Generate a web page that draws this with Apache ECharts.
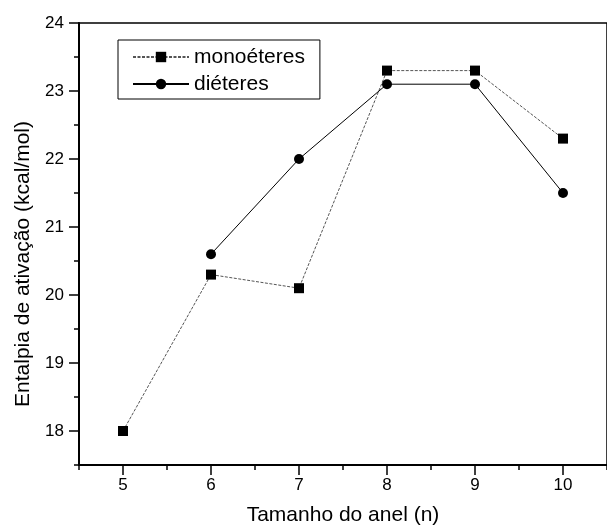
<!DOCTYPE html>
<html>
<head>
<meta charset="utf-8">
<script src="https://cdn.jsdelivr.net/npm/echarts@6/dist/echarts.min.js"></script>
<style>html,body{margin:0;padding:0;background:#fff;overflow:hidden}#c{width:607px;height:532px}</style>
</head>
<body>
<div id="c"></div>
<script>
const ringSizes = [5, 6, 7, 8, 9, 10];
const monoeteres = [18.0, 20.3, 20.1, 23.3, 23.3, 22.3];
const dieteresX = [6, 7, 8, 9, 10];
const dieteres = [20.6, 22.0, 23.1, 23.1, 21.5];
const xMajorTicks = [5, 6, 7, 8, 9, 10];
const xMinorTicks = [4.5, 5.5, 6.5, 7.5, 8.5, 9.5, 10.5];
const yMajorTicks = [18, 19, 20, 21, 22, 23, 24];
const yMinorTicks = [17.5, 18.5, 19.5, 20.5, 21.5, 22.5, 23.5];

const FONT = 'Liberation Sans, Arial, sans-serif';
const chart = echarts.init(document.getElementById('c'), null, {renderer: 'canvas'});
const base = {min: 4.5, max: 10.5, type: 'value'};
const ybase = {min: 17.5, max: 24, type: 'value'};
chart.setOption({
  animation: false,
  backgroundColor: '#fff',
  grid: {left: 79, top: 23, width: 535, height: 442, show: true, borderColor: '#000', borderWidth: 1.5, backgroundColor: 'transparent'},
  legend: {
    left: 118, top: 40, orient: 'vertical',
    borderColor: '#000', borderWidth: 1, borderRadius: 0,
    padding: [5, 15, 3, 14], itemGap: 3,
    itemWidth: 56, itemHeight: 13,
    textStyle: {fontFamily: FONT, fontSize: 21, color: '#000', lineHeight: 24},
    data: ['monoéteres', 'diéteres']
  },
  xAxis: [
    Object.assign({}, base, {
      position: 'bottom',
      name: 'Tamanho do anel (n)', nameLocation: 'middle', nameGap: 40,
      nameTextStyle: {fontFamily: FONT, fontSize: 21, color: '#000'},
      axisLine: {show: true, onZero: false, lineStyle: {color: '#000', width: 2}},
      axisTick: {show: true, inside: false, length: 10, customValues: xMajorTicks, lineStyle: {color: '#000', width: 1.5}},
      axisLabel: {customValues: xMajorTicks, margin: 12, fontFamily: FONT, fontSize: 17, color: '#000'},
      splitLine: {show: false}
    }),
    Object.assign({}, base, {
      position: 'bottom',
      axisLine: {show: false, onZero: false},
      axisTick: {show: true, inside: false, length: 5, customValues: xMinorTicks, lineStyle: {color: '#000', width: 1.5}},
      axisLabel: {show: false},
      splitLine: {show: false}
    })
  ],
  yAxis: [
    Object.assign({}, ybase, {
      position: 'left',
      name: 'Entalpia de ativação (kcal/mol)', nameLocation: 'middle', nameGap: 45,
      nameTextStyle: {fontFamily: FONT, fontSize: 21, color: '#000', padding: [0, 40, 0, 0]},
      axisLine: {show: true, onZero: false, lineStyle: {color: '#000', width: 2}},
      axisTick: {show: true, inside: false, length: 10, customValues: yMajorTicks, lineStyle: {color: '#000', width: 1.5}},
      axisLabel: {customValues: yMajorTicks, margin: 15, fontFamily: FONT, fontSize: 17, color: '#000'},
      splitLine: {show: false}
    }),
    Object.assign({}, ybase, {
      position: 'left',
      axisLine: {show: false, onZero: false},
      axisTick: {show: true, inside: false, length: 5, customValues: yMinorTicks, lineStyle: {color: '#000', width: 1.5}},
      axisLabel: {show: false},
      splitLine: {show: false}
    })
  ],
  series: [
    {
      name: 'monoéteres', type: 'line', xAxisIndex: 0, yAxisIndex: 0,
      data: ringSizes.map((x, i) => [x, monoeteres[i]]),
      symbol: 'rect', symbolSize: 10,
      itemStyle: {color: '#000'},
      lineStyle: {color: '#555', width: 1, type: [3, 1.5]}
    },
    {
      name: 'diéteres', type: 'line', xAxisIndex: 0, yAxisIndex: 0,
      data: dieteresX.map((x, i) => [x, dieteres[i]]),
      symbol: 'circle', symbolSize: 10,
      itemStyle: {color: '#000'},
      lineStyle: {color: '#000', width: 1, type: 'solid'}
    }
  ]
});
</script>
</body>
</html>
